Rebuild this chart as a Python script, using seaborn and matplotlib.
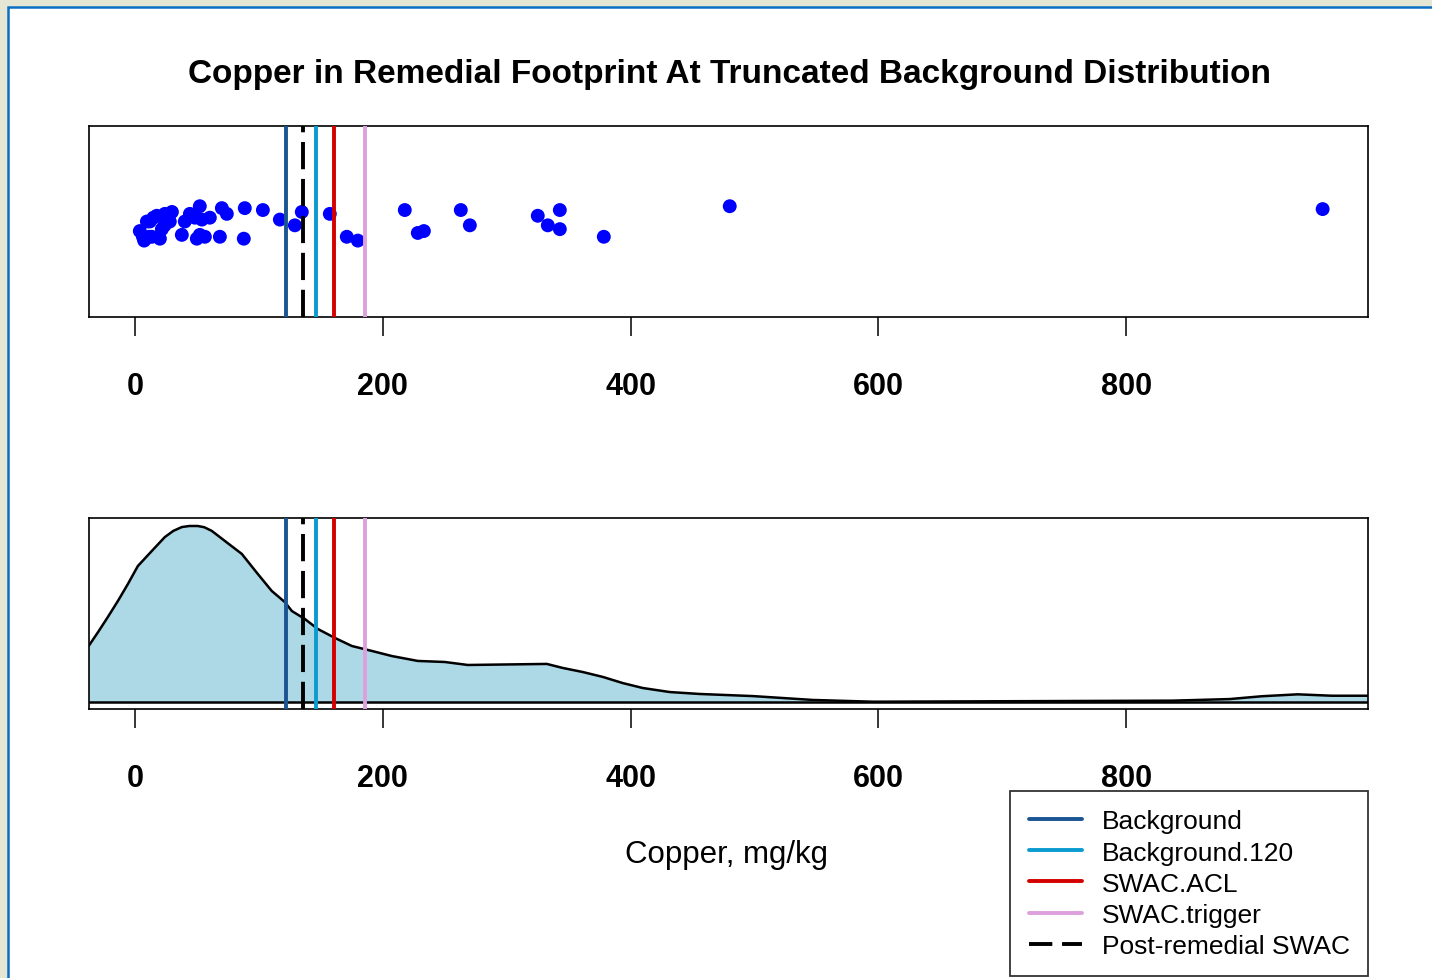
import matplotlib
matplotlib.use("Agg")
import matplotlib.pyplot as plt
from matplotlib.lines import Line2D
from matplotlib.patches import Rectangle
import seaborn as sns
import pandas as pd

# copper concentrations (mg/kg) and their jitter position in the strip
copper = [4.0, 6.5, 7.5, 9.7, 11.5, 12.1, 13.7, 15.0, 17.7, 20.2, 21.8, 24.0, 24.2,
          28.2, 29.9, 37.9, 40.3, 44.4, 48.4, 50.0, 52.4, 52.4, 54.1, 56.5, 60.5,
          68.6, 70.2, 74.2, 87.9, 88.7, 103.3, 117.0,
          129.1, 134.7, 157.3, 171.0, 179.9, 217.8, 228.3, 233.2, 263.0, 270.3,
          325.1, 333.2, 342.9, 342.9, 378.4, 480.0, 958.4]
jitter = [0.45, 0.42, 0.40, 0.50, 0.42, 0.50, 0.42, 0.52, 0.53, 0.41, 0.46, 0.48, 0.54,
          0.50, 0.55, 0.43, 0.50, 0.54, 0.52, 0.41, 0.58, 0.43, 0.51, 0.42, 0.52,
          0.42, 0.57, 0.54, 0.41, 0.57, 0.56, 0.51,
          0.48, 0.55, 0.54, 0.42, 0.40, 0.56, 0.44, 0.45, 0.56, 0.48,
          0.53, 0.48, 0.56, 0.46, 0.42, 0.58, 0.565]

# density curve (relative height, peak = 1)
dens_x = [-37.1, -29.6, -21.8, -13.7, -5.6, 2.4, 13.7, 24.2, 31.0, 37.9, 44.0, 50.8,
          56.0, 62.1, 72.6, 86.3, 99.2, 110.5, 121.0, 126.7, 137.1, 147.6, 161.4,
          175.1, 191.2, 207.3, 228.3, 250.1, 268.7, 332.4, 345.3, 361.4, 377.6,
          393.7, 409.8, 431.6, 455.8, 498.6, 522.8, 547.0, 595.4, 837.4, 883.4,
          909.2, 938.3, 965.7, 994.7]
dens_y = [0.319, 0.397, 0.482, 0.573, 0.670, 0.772, 0.858, 0.937, 0.972, 0.994, 1.0,
          1.0, 0.993, 0.972, 0.915, 0.841, 0.727, 0.630, 0.567, 0.516, 0.471, 0.414,
          0.363, 0.317, 0.289, 0.260, 0.232, 0.226, 0.209, 0.215, 0.192, 0.169, 0.141,
          0.106, 0.078, 0.055, 0.044, 0.032, 0.021, 0.010, 0.0, 0.006, 0.015, 0.031,
          0.042, 0.034, 0.034]

ref_names = ["Background", "Background.120", "SWAC.ACL", "SWAC.trigger", "Post-remedial SWAC"]
ref_values = [122, 146, 160.5, 186, 136]
ref_colors = ["#1a5493", "#0a9bd0", "#d40000", "#dda0dd", "black"]

ticks = [0, 200, 400, 600, 800]

sns.set_style("white")
plt.rcParams['font.family'] = ['Liberation Sans', 'DejaVu Sans']
plt.rcParams['text.color'] = 'black'
plt.rcParams['xtick.color'] = 'black'

fig = plt.figure(figsize=(14.32, 9.79), dpi=100)
fig.patch.set_facecolor("#e5e7d4")
fig.patches.append(Rectangle((8 / 1432, -0.02), 1.05, 1 - 8 / 979 + 0.02,
                             transform=fig.transFigure, facecolor="white",
                             edgecolor="#0a6ec4", lw=1.8, zorder=-5))

W, H = 1432, 979
ax1 = fig.add_axes([89 / W, 1 - 318 / H, (1368 - 89) / W, 191 / H])
ax2 = fig.add_axes([89 / W, 1 - 710 / H, (1368 - 89) / W, 191 / H])

strip = pd.DataFrame({"copper": copper, "y": jitter})
sns.scatterplot(data=strip, x="copper", y="y", color="#0000ff", s=100,
                edgecolor="none", ax=ax1, zorder=3)
ax1.set_ylim(0, 1)

dens = pd.DataFrame({"x": dens_x, "d": dens_y})
ax2.fill_between(dens["x"], dens["d"], 0, color="#add8e6", lw=0, zorder=1)
sns.lineplot(data=dens, x="x", y="d", color="black", lw=1.8, ax=ax2, zorder=2)
ax2.axhline(0, color="black", lw=1.8, zorder=2)
ax2.set_ylim(-0.0415, 1.0455)

for ax in (ax1, ax2):
    for name, v, c in zip(ref_names, ref_values, ref_colors):
        if name == "Post-remedial SWAC":
            ax.axvline(v, color=c, lw=2.8, dashes=(7, 2.5), zorder=4)
        else:
            ax.axvline(v, color=c, lw=2.8, zorder=4)
    ax.set_xlim(-37, 995)
    ax.set_xticks(ticks)
    ax.set_xticklabels([str(t) for t in ticks], fontsize=22, fontweight="bold")
    ax.set_yticks([])
    ax.set_xlabel("")
    ax.set_ylabel("")
    ax.tick_params(axis="x", direction="out", length=14, width=1.1, pad=25,
                   bottom=True, colors="black")
    for sp in ax.spines.values():
        sp.set_color("black")
        sp.set_linewidth(1.2)
    ax.set_facecolor("none")

fig.text(729 / W, 1 - 74 / H, "Copper in Remedial Footprint At Truncated Background Distribution",
         ha="center", va="center", fontsize=24, fontweight="bold")
fig.text(727 / W, 1 - 855 / H, "Copper, mg/kg", ha="center", va="center", fontsize=22.5)

handles = []
for name, c in zip(ref_names, ref_colors):
    if name == "Post-remedial SWAC":
        handles.append(Line2D([], [], color=c, lw=2.8, dashes=(6, 2.5)))
    else:
        handles.append(Line2D([], [], color=c, lw=2.8))
leg = fig.legend(handles, ref_names, loc="upper right", bbox_to_anchor=(1368 / W, 1 - 792 / H),
                 fontsize=19, frameon=True, fancybox=False, edgecolor="black",
                 handlelength=2.0, handletextpad=0.75, borderpad=0.7, labelspacing=0.27,
                 borderaxespad=0)
leg.get_frame().set_linewidth(1.3)

fig.savefig("out.png", dpi=100, facecolor=fig.get_facecolor())
